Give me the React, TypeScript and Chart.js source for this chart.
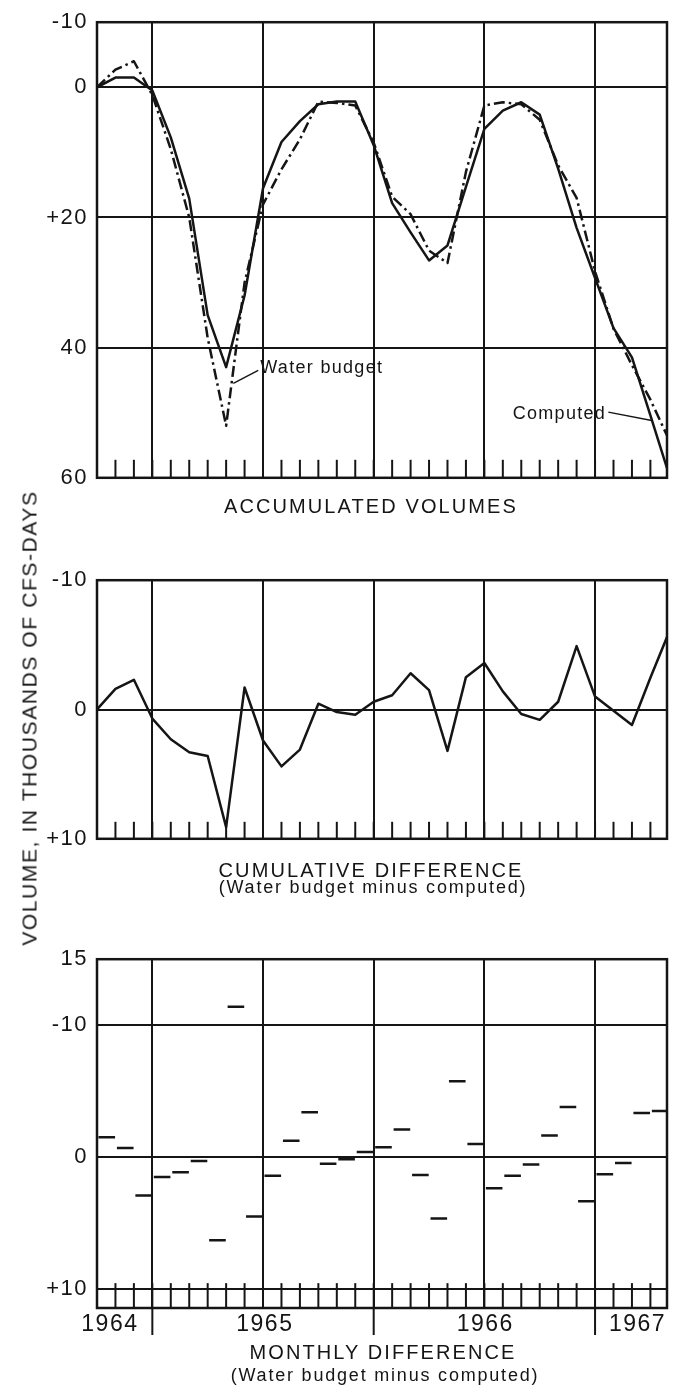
import { useEffect, useRef } from 'react';
import { Chart, registerables } from 'chart.js';

Chart.register(...registerables);

const INK = '#151515';
const FONT = '"Liberation Sans", Arial, Helvetica, sans-serif';

// Months counted from the left edge of the record; the last entry is the right edge.
const monthPoints = [0, 1, 2, 3, 4, 5, 6, 7, 8, 9, 10, 11, 12, 13, 14, 15, 16, 17, 18, 19, 20, 21, 22, 23, 24, 25, 26, 27, 28, 29, 30, 30.9];

// Accumulated volumes, thousands of cfs-days
const computedVolume = [0, -1.5, -1.5, 0.5, 7.7, 17.1, 35, 43, 32, 15.5, 8.4, 5.2, 2.6, 2.2, 2.2, 8.9, 17.8, 22.3, 26.6, 24.3, 15.3, 6.4, 3.6, 2.3, 4.2, 12.5, 21.6, 29.3, 37, 41.5, 50.4, 58.5];
const waterBudgetVolume = [0, -2.7, -4.0, 1.2, 9.5, 20, 38.5, 52, 30, 18, 12.6, 8, 2.2, 2.4, 2.8, 8.5, 16.8, 19.5, 25.1, 27, 13, 2.8, 2.3, 2.6, 5.0, 12, 17, 28.3, 37.1, 42.7, 48, 53.5];

// Cumulative difference (water budget minus computed)
const cumulativeDifference = [0, -1.6, -2.3, 0.7, 2.3, 3.3, 3.6, 9.1, -1.7, 2.4, 4.4, 3.1, -0.45, 0.2, 0.4, -0.6, -1.1, -2.8, -1.5, 3.2, -2.5, -3.6, -1.4, 0.35, 0.8, -0.6, -4.9, -1.0, 0.1, 1.2, -2.45, -5.6];

// Monthly difference, one value per month (month m covers m..m+1)
const monthlyDifference = [-1.5, -0.7, 2.9, 1.5, 1.15, 0.3, 6.3, -11.4, 4.5, 1.4, -1.25, -3.4, 0.5, 0.15, -0.4, -0.75, -2.1, 1.35, 4.65, -5.75, -1.0, 2.35, 1.4, 0.55, -1.65, -3.8, 3.35, 1.3, 0.45, -3.35, -3.5];

const halfYearLines = [3, 9, 15, 21, 27];
const yearBoundaries = [3, 15, 27];
const monthTicks = [1, 2, 3, 4, 5, 6, 7, 8, 9, 10, 11, 12, 13, 14, 15, 16, 17, 18, 19, 20, 21, 22, 23, 24, 25, 26, 27, 28, 29, 30];
const yearLabels = ['1964', '1965', '1966', '1967'];
const yearLabelMonths = [0.7, 9.1, 21.05, 29.3];

const accTickValues = [-10, 0, 20, 40, 60];
const accTickLabels = ['-10', '0', '+20', '40', '60'];
const cumTickValues = [-10, 0, 10];
const cumTickLabels = ['-10', '0', '+10'];
const monTickValues = [-15, -10, 0, 10];
const monTickLabels = ['15', '-10', '0', '+10'];

const X_MAX = 30.9;

const framePlugin = {
  id: 'frame',
  beforeDraw(chart: any) {
    chart.ctx.letterSpacing = '1.5px';
  },
  afterDatasetsDraw(chart: any, _args: any, opts: any) {
    const { ctx, chartArea: a, scales } = chart;
    const xs = scales.x;
    const ys = scales.y;
    ctx.save();
    ctx.strokeStyle = INK;
    ctx.lineCap = 'butt';

    // monthly tick marks along the lower edge
    ctx.lineWidth = 2;
    const tickTop = opts.tickValue !== undefined
      ? ys.getPixelForValue(opts.tickValue) - opts.tickAbove
      : a.bottom - opts.tickLength;
    for (const m of monthTicks) {
      const px = xs.getPixelForValue(m);
      ctx.beginPath();
      ctx.moveTo(px, tickTop);
      ctx.lineTo(px, a.bottom);
      ctx.stroke();
    }

    // year separators below the axis
    if (opts.dividerLength) {
      for (const m of yearBoundaries) {
        const px = xs.getPixelForValue(m);
        ctx.beginPath();
        ctx.moveTo(px, a.bottom);
        ctx.lineTo(px, a.bottom + opts.dividerLength);
        ctx.stroke();
      }
    }

    // plot frame
    ctx.lineWidth = 2.5;
    ctx.strokeRect(a.left, a.top, a.right - a.left, a.bottom - a.top);

    // labelled leaders
    for (const n of opts.notes || []) {
      ctx.lineWidth = 1.4;
      ctx.beginPath();
      ctx.moveTo(xs.getPixelForValue(n.from[0]), ys.getPixelForValue(n.from[1]));
      ctx.lineTo(xs.getPixelForValue(n.to[0]), ys.getPixelForValue(n.to[1]));
      ctx.stroke();
      ctx.font = `18px ${FONT}`;
      ctx.letterSpacing = '1.3px';
      ctx.fillStyle = INK;
      ctx.textBaseline = 'middle';
      ctx.textAlign = n.align;
      ctx.fillText(n.text, xs.getPixelForValue(n.x), ys.getPixelForValue(n.y));
    }
    ctx.restore();
  },
  afterDraw(chart: any) {
    chart.ctx.letterSpacing = '0px';
  },
};

function xGridScale() {
  return {
    type: 'linear',
    min: 0,
    max: X_MAX,
    afterBuildTicks: (s: any) => { s.ticks = halfYearLines.map((v) => ({ value: v })); },
    afterFit: (s: any) => { s.height = 0; },
    ticks: { display: false },
    grid: { color: INK, lineWidth: 2, drawTicks: false },
    border: { display: false },
  };
}

function yScale(min: number, max: number, values: number[], labels: string[]) {
  return {
    type: 'linear',
    reverse: true,
    min,
    max,
    afterBuildTicks: (s: any) => { s.ticks = values.map((v) => ({ value: v })); },
    afterFit: (s: any) => { s.width = 97; },
    ticks: {
      color: INK,
      padding: 9,
      font: { family: FONT, size: 22 },
      callback: (v: number) => labels[values.indexOf(v)] ?? '',
    },
    grid: { color: INK, lineWidth: 2, drawTicks: false },
    border: { display: false },
  };
}

function baseOptions(padTop: number, padBottom: number, scales: any, frame: any) {
  return {
    responsive: false,
    animation: false,
    events: [],
    devicePixelRatio: 1,
    layout: { padding: { left: 0, right: 13, top: padTop, bottom: padBottom } },
    plugins: { legend: { display: false }, tooltip: { enabled: false }, frame },
    scales,
  };
}

function lineSet(values: number[], dash: number[]) {
  return {
    data: monthPoints.map((m, i) => ({ x: m, y: values[i] })),
    borderColor: INK,
    borderWidth: 2.5,
    borderDash: dash,
    borderJoinStyle: 'round',
    pointRadius: 0,
    tension: 0,
    fill: false,
  };
}

function accumulatedConfig(): any {
  return {
    type: 'line',
    data: {
      datasets: [
        lineSet(waterBudgetVolume, [11, 4, 2.5, 4]),
        lineSet(computedVolume, []),
      ],
    },
    options: baseOptions(15, 16, { x: xGridScale(), y: yScale(-10, 60, accTickValues, accTickLabels) }, {
      tickLength: 18,
      notes: [
        { text: 'Water budget', x: 8.85, y: 43.1, align: 'left', from: [8.74, 43.5], to: [7.39, 45.5] },
        { text: 'Computed', x: 27.6, y: 50.2, align: 'right', from: [27.72, 49.9], to: [30.07, 51.2] },
      ],
    }),
    plugins: [framePlugin],
  };
}

function cumulativeConfig(): any {
  return {
    type: 'line',
    data: { datasets: [lineSet(cumulativeDifference, [])] },
    options: baseOptions(20, 16, { x: xGridScale(), y: yScale(-10, 10, cumTickValues, cumTickLabels) }, {
      tickLength: 17,
    }),
    plugins: [framePlugin],
  };
}

function monthlyConfig(): any {
  const steps = monthlyDifference.flatMap((v, m) => [
    { x: m + 0.08, y: v },
    { x: Math.min(m + 0.98, X_MAX), y: v },
    { x: Math.min(m + 0.99, X_MAX), y: null },
  ]);
  return {
    type: 'line',
    data: {
      datasets: [{
        data: steps,
        borderColor: INK,
        borderWidth: 2.5,
        pointRadius: 0,
        spanGaps: false,
        fill: false,
      }],
    },
    options: baseOptions(20, 0, {
      x: xGridScale(),
      years: {
        type: 'linear',
        position: 'bottom',
        min: 0,
        max: X_MAX,
        afterBuildTicks: (s: any) => { s.ticks = yearLabelMonths.map((v) => ({ value: v })); },
        afterFit: (s: any) => { s.height = 40; },
        ticks: {
          color: INK,
          padding: 3,
          autoSkip: false,
          maxRotation: 0,
          minRotation: 0,
          font: { family: FONT, size: 23 },
          callback: (_v: number, i: number) => yearLabels[i],
        },
        grid: { display: false, drawTicks: false },
        border: { display: false },
      },
      y: yScale(-15, 11.43, monTickValues, monTickLabels),
    }, {
      tickValue: 10,
      tickAbove: 6,
      dividerLength: 27,
    }),
    plugins: [framePlugin],
  };
}

const captionStyle = (top: number, left: number, size: number, spacing: number): any => ({
  position: 'absolute',
  top,
  left,
  transform: 'translateX(-50%)',
  fontSize: size,
  lineHeight: 1,
  letterSpacing: spacing,
  whiteSpace: 'nowrap',
});

export default function App() {
  const accRef = useRef<HTMLCanvasElement>(null);
  const cumRef = useRef<HTMLCanvasElement>(null);
  const monRef = useRef<HTMLCanvasElement>(null);

  useEffect(() => {
    const charts = [
      new Chart(accRef.current as HTMLCanvasElement, accumulatedConfig()),
      new Chart(cumRef.current as HTMLCanvasElement, cumulativeConfig()),
      new Chart(monRef.current as HTMLCanvasElement, monthlyConfig()),
    ];
    return () => charts.forEach((c) => c.destroy());
  }, []);

  return (
    <div
      style={{
        position: 'absolute',
        left: 0,
        top: 0,
        width: 680,
        height: 1385,
        background: '#fff',
        color: INK,
        fontFamily: FONT,
        overflow: 'hidden',
      }}
    >
      <canvas ref={accRef} width={680} height={500} style={{ position: 'absolute', left: 0, top: 0 }} />
      <canvas ref={cumRef} width={680} height={303} style={{ position: 'absolute', left: 0, top: 558 }} />
      <canvas ref={monRef} width={680} height={411} style={{ position: 'absolute', left: 0, top: 937 }} />

      <div
        style={{
          position: 'absolute',
          left: 28.5,
          top: 718,
          transform: 'translate(-50%, -50%) rotate(-90deg)',
          fontSize: 21,
          lineHeight: 1,
          letterSpacing: 1.6,
          whiteSpace: 'nowrap',
        }}
      >
        VOLUME, IN THOUSANDS OF CFS-DAYS
      </div>

      <div style={captionStyle(496, 371, 20, 2.1)}>ACCUMULATED VOLUMES</div>
      <div style={captionStyle(860, 371, 20, 2.1)}>CUMULATIVE DIFFERENCE</div>
      <div style={captionStyle(878, 373, 18, 1.8)}>(Water budget minus computed)</div>
      <div style={captionStyle(1342, 383, 20, 2.1)}>MONTHLY DIFFERENCE</div>
      <div style={captionStyle(1366, 385, 18, 1.8)}>(Water budget minus computed)</div>
    </div>
  );
}
